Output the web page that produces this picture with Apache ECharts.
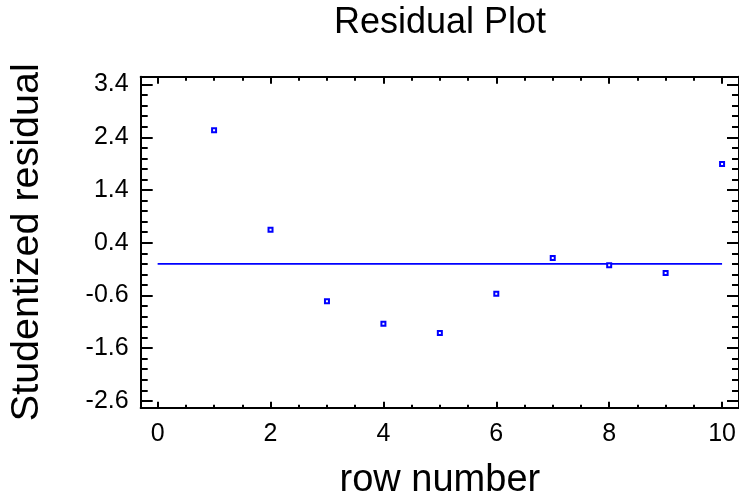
<!DOCTYPE html>
<html>
<head>
<meta charset="utf-8">
<title>Residual Plot</title>
<script src="https://cdn.jsdelivr.net/npm/echarts@6/dist/echarts.min.js"></script>
<style>
  html, body { margin: 0; padding: 0; background: #fff; }
  #chart { width: 739px; height: 500px; }
</style>
</head>
<body>
<div id="chart"></div>
<script>
// Row numbers and their studentized residuals
const rowNumbers = [1, 2, 3, 4, 5, 6, 7, 8, 9, 10];
const residuals = [2.535, 0.646, -0.712, -1.135, -1.314, -0.566, 0.110, -0.028, -0.175, 1.895];

// Zero reference line across the rows
const refLineX = [0, 10];
const refLineY = [0, 0];

// Tick positions
const xMajorTicks = [0, 2, 4, 6, 8, 10];
const xMinorTicks = [0.5, 1, 1.5, 2.5, 3, 3.5, 4.5, 5, 5.5, 6.5, 7, 7.5, 8.5, 9, 9.5];
const yMajorTicks = [-2.6, -1.6, -0.6, 0.4, 1.4, 2.4, 3.4];
const yMinorTicks = [-2.4, -2.2, -2.0, -1.8, -1.4, -1.2, -1.0, -0.8, -0.4, -0.2, 0.0, 0.2,
                     0.6, 0.8, 1.0, 1.2, 1.6, 1.8, 2.0, 2.2, 2.6, 2.8, 3.0, 3.2];

const FONT = '"Liberation Sans", Arial, Helvetica, sans-serif';
const X_MIN = -0.3, X_MAX = 10.3;
const Y_MIN = -2.73, Y_MAX = 3.55;

function xAxisDef(position, ticks, len, withLine, withLabels) {
  return {
    type: 'value', position: position, min: X_MIN, max: X_MAX,
    axisLine: { show: withLine, onZero: false, lineStyle: { color: '#000', width: 2 } },
    axisTick: { show: true, inside: true, length: len, customValues: ticks,
                lineStyle: { color: '#000', width: 2 } },
    axisLabel: withLabels
      ? { show: true, customValues: ticks, color: '#000', fontSize: 25, fontFamily: FONT, margin: 14,
          formatter: v => String(v) }
      : { show: false },
    splitLine: { show: false },
    name: withLabels ? 'row number' : '',
    nameLocation: 'middle', nameGap: 54,
    nameTextStyle: { color: '#000', fontSize: 38, fontFamily: FONT }
  };
}

function yAxisDef(position, ticks, len, withLine, withLabels) {
  return {
    type: 'value', position: position, min: Y_MIN, max: Y_MAX,
    axisLine: { show: withLine, onZero: false, lineStyle: { color: '#000', width: 2 } },
    axisTick: { show: true, inside: true, length: len, customValues: ticks,
                lineStyle: { color: '#000', width: 2 } },
    axisLabel: withLabels
      ? { show: true, customValues: ticks, color: '#000', fontSize: 25, fontFamily: FONT, margin: 12,
          formatter: v => v.toFixed(1) }
      : { show: false },
    splitLine: { show: false },
    name: withLabels ? 'Studentized residual' : '',
    nameLocation: 'middle', nameGap: 94,
    nameTextStyle: { color: '#000', fontSize: 39.5, fontFamily: FONT }
  };
}

const chart = echarts.init(document.getElementById('chart'), null, { renderer: 'canvas' });

chart.setOption({
  animation: false,
  backgroundColor: '#fff',
  title: {
    text: 'Residual Plot',
    left: 440, top: 5, padding: 0,
    textAlign: 'center',
    textStyle: { color: '#000', fontSize: 36, fontWeight: 'normal', fontFamily: FONT }
  },
  grid: { left: 140.7, right: 0, top: 76.7, bottom: 92.3, containLabel: false, outerBoundsMode: 'none' },
  xAxis: [
    xAxisDef('bottom', xMajorTicks, 6, true, true),
    xAxisDef('bottom', xMinorTicks, 3, false, false),
    xAxisDef('top', xMajorTicks, 7, true, false),
    xAxisDef('top', xMinorTicks, 4, false, false)
  ],
  yAxis: [
    yAxisDef('left', yMajorTicks, 12, true, true),
    yAxisDef('left', yMinorTicks, 7, false, false),
    yAxisDef('right', yMajorTicks, 12, true, false),
    yAxisDef('right', yMinorTicks, 7, false, false)
  ],
  series: [
    {
      type: 'line',
      xAxisIndex: 0, yAxisIndex: 0,
      data: refLineX.map((x, i) => [x, refLineY[i]]),
      showSymbol: false, symbol: 'none',
      lineStyle: { color: '#0000ff', width: 1.8 },
      silent: true, z: 2
    },
    {
      type: 'scatter',
      xAxisIndex: 0, yAxisIndex: 0,
      data: rowNumbers.map((x, i) => [x, residuals[i]]),
      symbol: 'rect', symbolSize: 4,
      itemStyle: { color: '#fff', borderColor: '#0000ff', borderWidth: 2, opacity: 1 },
      z: 3
    }
  ]
});
</script>
</body>
</html>
